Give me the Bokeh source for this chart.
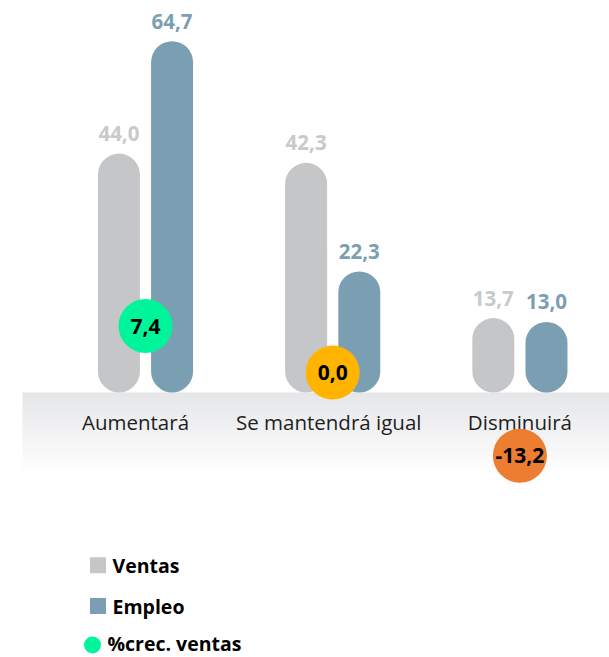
import numpy as np
from bokeh.plotting import figure
from bokeh.models import ColumnDataSource, Range1d
from bokeh.core.properties import value
from bokeh.embed import file_html
from bokeh.resources import INLINE

# ---------------- data ----------------
categories = ["Aumentará", "Se mantendrá igual", "Disminuirá"]
ventas = [44.0, 42.3, 13.7]
empleo = [64.7, 22.3, 13.0]
crec_ventas = [7.4, 0.0, -13.2]
crec_colors = ["#00f59b", "#ffb400", "#ed7d31"]
legend_labels = ["Ventas", "Empleo", "%crec. ventas"]

VENTAS_COLOR = "#c5c6c8"
EMPLEO_COLOR = "#7b9fb2"
VENTAS_LABEL_COLOR = "#c8c9cb"
EMPLEO_LABEL_COLOR = "#7b9fb2"

def fmt(v):
    return f"{v:.1f}".replace(".", ",")

# ---------------- geometry helpers (screen px -> data) ----------------
W, H = 609, 657
X0, Y0 = 0, 0
PX_PER_CAT = 187.2
CAT0_SX = 145.0
BASE_SY = 392.0
PX_PER_UNIT = 5.43
PCT_ZERO_SY = 372.1
PCT_PX = 6.296

def dx(sx):
    return (sx - CAT0_SX) / PX_PER_CAT

def dy(sy):
    return (BASE_SY - sy) / PX_PER_UNIT

FONT = value("Open Sans")

p = figure(width=W, height=H, output_backend="svg", toolbar_location=None,
           x_range=Range1d(dx(X0), dx(X0 + W)),
           y_range=Range1d(dy(Y0 + H), dy(Y0)),
           x_axis_location=None, y_axis_location=None,
           min_border=0, outline_line_color=None,
           background_fill_color="white", border_fill_color="white")
p.grid.visible = False
p.extra_y_ranges = {"pct": Range1d(start=(PCT_ZERO_SY - (Y0 + H)) / PCT_PX,
                                   end=(PCT_ZERO_SY - Y0) / PCT_PX)}

# ---------------- gradient band under the baseline ----------------
band_top, band_bottom, n = 392.0, 474.0, 41
edges = np.linspace(band_top, band_bottom, n + 1)
c0 = np.array([229, 230, 232])
c1 = np.array([255, 255, 255])
cols = []
for k in range(n):
    t = (k + 0.5) / n
    c = (c0 + (c1 - c0) * t).round().astype(int)
    cols.append("#%02x%02x%02x" % tuple(c))
p.quad(left=[dx(22)] * n, right=[dx(X0 + W + 2)] * n,
       top=[dy(e) for e in edges[:-1]], bottom=[dy(e + 0.6) for e in edges[1:]],
       fill_color=cols, line_color=None)

# ---------------- bars ----------------
xi = np.arange(len(categories), dtype=float)
OFF = 0.142
BW = 42 / PX_PER_CAT
src_v = ColumnDataSource(dict(x=xi - OFF, top=ventas, lab=[fmt(v) for v in ventas]))
src_e = ColumnDataSource(dict(x=xi + OFF, top=empleo, lab=[fmt(v) for v in empleo]))
p.vbar(x="x", top="top", bottom=0, width=BW, source=src_v,
       fill_color=VENTAS_COLOR, line_color=None, border_radius=21)
p.vbar(x="x", top="top", bottom=0, width=BW, source=src_e,
       fill_color=EMPLEO_COLOR, line_color=None, border_radius=21)

p.text(x="x", y="top", text="lab", source=src_v, text_align="center",
       text_baseline="middle", y_offset=-20, text_font=FONT,
       text_font_style="bold", text_font_size="20.5px", text_color=VENTAS_LABEL_COLOR)
p.text(x="x", y="top", text="lab", source=src_e, text_align="center",
       text_baseline="middle", y_offset=-20, text_font=FONT,
       text_font_style="bold", text_font_size="20.5px", text_color=EMPLEO_LABEL_COLOR)

# ---------------- category labels ----------------
label_nudge = [-10, -4, 0]  # screen px, style only
src_l = ColumnDataSource(dict(x=xi, y=[dy(421)] * len(categories), t=categories,
                              xo=label_nudge))
p.text(x="x", y="y", text="t", x_offset="xo", source=src_l, text_align="center",
       text_baseline="middle", text_font=FONT, text_font_size="20.5px",
       text_color="#1e1e1e")

# ---------------- growth circles ----------------
src_c = ColumnDataSource(dict(x=xi, y=crec_ventas, c=crec_colors,
                              lab=[fmt(v) for v in crec_ventas]))
p.scatter(x="x", y="y", source=src_c, y_range_name="pct", marker="circle",
          size=54, fill_color="c", line_color=None)
p.text(x="x", y="y", text="lab", source=src_c, y_range_name="pct",
       text_align="center", text_baseline="middle", text_font=FONT,
       text_font_style="bold", text_font_size="21px", text_color="#000000")

# ---------------- legend ----------------
p.scatter(x=[dx(97.5)] * 2, y=[dy(564.7), dy(605.5)], marker="square", size=16,
          fill_color=[VENTAS_COLOR, EMPLEO_COLOR], line_color=None)
p.scatter(x=[dx(92)], y=[dy(644.5)], marker="circle", size=17,
          fill_color=crec_colors[0], line_color=None)
p.text(x=[dx(112), dx(112), dx(107)], y=[dy(565), dy(606), dy(643)],
       text=legend_labels, text_align="left", text_baseline="middle",
       text_font=FONT, text_font_style="bold", text_font_size="19.5px",
       text_color="#000000")

open("out.html", "w").write(file_html(p, INLINE))
